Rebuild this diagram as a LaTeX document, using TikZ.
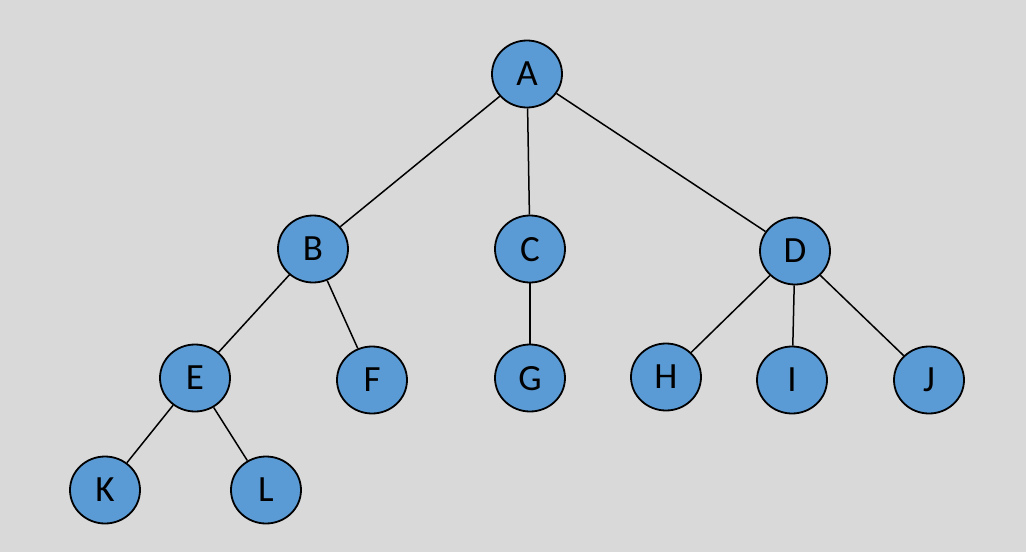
\documentclass[tikz,border=0pt]{standalone}
\usepackage{fontspec}
\setmainfont{Carlito}
\usetikzlibrary{shapes.geometric}
\definecolor{bg}{HTML}{D9D9D9}
\definecolor{nodefill}{HTML}{5B9BD5}
\begin{document}
\begin{tikzpicture}[x=1pt,y=-1pt,
  treenode/.style={ellipse,draw=black,line width=1.8pt,fill=nodefill,
    minimum width=70pt,minimum height=67pt,inner sep=0pt,
    font=\fontsize{37}{40}\selectfont,text depth=0pt},
  branch/.style={draw=black,line width=1.5pt}]
  \fill[bg] (0,0) rectangle (1026,552);
  \useasboundingbox (0,0) rectangle (1026,552);
  % tree nodes
  \node[treenode] (A) at (527,74) {A};
  \node[treenode] (B) at (313,249) {B};
  \node[treenode] (C) at (530,249) {C};
  \node[treenode] (D) at (795,251) {D};
  \node[treenode] (E) at (195,378) {E};
  \node[treenode] (F) at (372,380) {F};
  \node[treenode] (G) at (530,378) {G};
  \node[treenode] (H) at (666,377) {H};
  \node[treenode] (I) at (792,380) {I};
  \node[treenode] (J) at (929,380) {J};
  \node[treenode] (K) at (105,490) {K};
  \node[treenode] (L) at (266,490) {L};
  % branches
  \draw[branch] (A) -- (B);
  \draw[branch] (A) -- (C);
  \draw[branch] (A) -- (D);
  \draw[branch] (B) -- (E);
  \draw[branch] (B) -- (F);
  \draw[branch] (C) -- (G);
  \draw[branch] (D) -- (H);
  \draw[branch] (D) -- (I);
  \draw[branch] (D) -- (J);
  \draw[branch] (E) -- (K);
  \draw[branch] (E) -- (L);
\end{tikzpicture}
\end{document}
